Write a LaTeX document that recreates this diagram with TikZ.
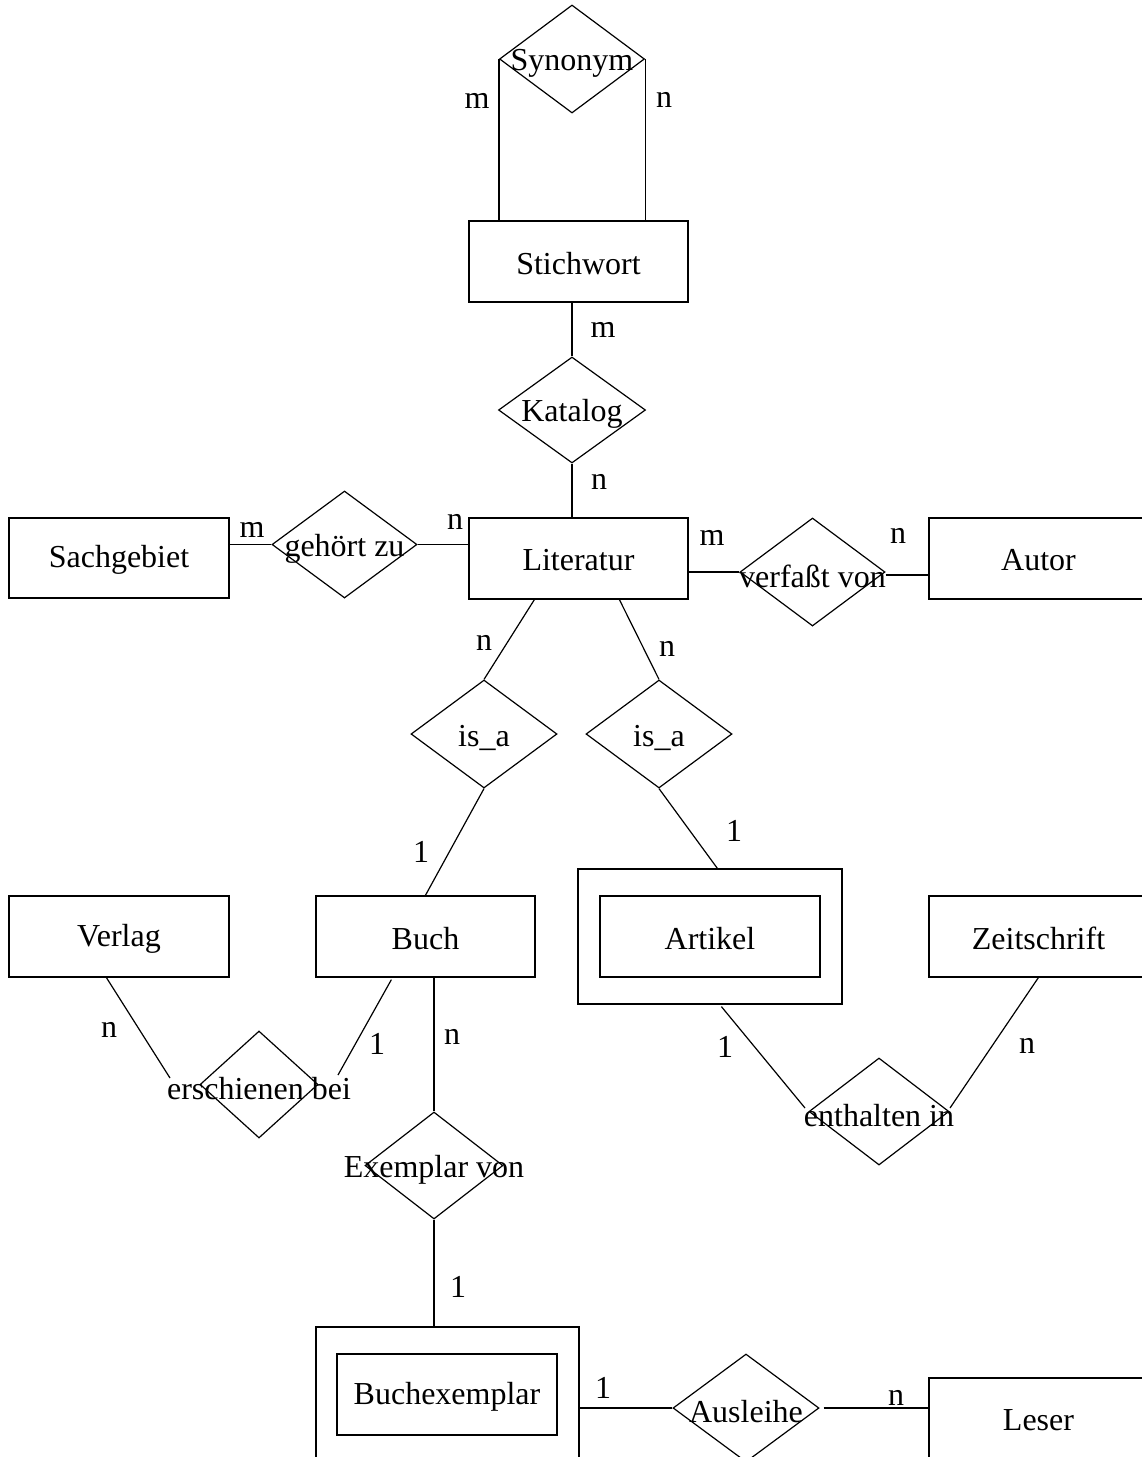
\documentclass[tikz,border=0pt]{standalone}
\usepackage{fontspec}
\setmainfont{Liberation Serif}
\usetikzlibrary{shapes.geometric,calc}
\newcommand\reltext[1]{\makebox[0pt]{\raisebox{-4pt}[\height][\depth]{#1}}}
\newcommand\enttext[1]{\raisebox{-2pt}[\height][\depth]{#1}}
\begin{document}
\begin{tikzpicture}[x=1pt,y=-1pt,line width=1.2pt,
  every node/.append style={font=\fontsize{32}{38}\selectfont},
  ent/.style={draw,rectangle,inner sep=0pt,minimum width=219pt,minimum height=81pt},
  weakbox/.style={draw,rectangle,inner sep=0pt,minimum width=264pt,minimum height=135pt},
  rel/.style={draw,diamond,inner sep=0pt,minimum width=146pt,minimum height=108pt},
  card/.style={inner sep=0pt}]
\useasboundingbox (0,0) rectangle (1142,1457);
\clip (0,0) rectangle (1142,1457);

% entities
\node[ent] (stich) at (578.5,261.5) {\enttext{Stichwort}};
\node[ent] (lit) at (578.5,558.5) {\enttext{Literatur}};
\node[ent,minimum width=220pt,minimum height=80pt] (sach) at (119,558) {\enttext{Sachgebiet}};
\node[ent] (autor) at (1038.5,558.5) {\enttext{Autor}};
\node[ent,minimum width=220pt] (verlag) at (119,936.5) {\enttext{Verlag}};
\node[ent] (buch) at (425.5,936.5) {\enttext{Buch}};
\node[ent,minimum width=220pt] (artikel) at (710,936.5) {\enttext{Artikel}};
\node[weakbox] (artikelo) at (710,936.5) {};
\node[ent] (zeit) at (1038.5,936.5) {\enttext{Zeitschrift}};
\node[ent,minimum width=220pt] (bex) at (447,1394.5) {\enttext{Buchexemplar}};
\node[weakbox,minimum width=263pt] (bexo) at (447.5,1394.5) {};
\node[ent] (leser) at (1038.5,1418.5) {\enttext{Leser}};

% relationships
\node[rel,minimum width=145pt] (syn) at (572,59) {\reltext{Synonym}};
\node[rel,minimum width=147pt,minimum height=106pt] (kat) at (572,410) {\reltext{Katalog}};
\node[rel,minimum width=145pt,minimum height=107pt] (geh) at (344.5,544.5) {\reltext{gehört zu}};
\node[rel,minimum width=145pt] (verf) at (812.5,572) {\reltext{verfaßt von}};
\node[rel] (isa1) at (484,734) {\reltext{is\_a}};
\node[rel] (isa2) at (659,734) {\reltext{is\_a}};
\node[rel,minimum width=118pt,minimum height=107pt] (ersch) at (259,1084.5) {\reltext{erschienen bei}};
\node[rel,minimum width=138pt,minimum height=107pt] (exv) at (434,1165.5) {\reltext{Exemplar von}};
\node[rel,minimum width=140pt,minimum height=107pt] (enth) at (879,1111.5) {\reltext{enthalten in}};
\node[rel] (aus) at (746,1408) {\reltext{Ausleihe}};

% connectors
\draw (syn.west) -- (syn.west |- stich.north);
\draw (syn.east) -- (syn.east |- stich.north);
\draw (kat.north) -- (kat.north |- stich.south);
\draw (kat.south) -- (kat.south |- lit.north);
\draw (geh.west) -- (geh.west -| sach.east);
\draw (geh.east) -- (geh.east -| lit.west);
\draw (verf.west) -- (verf.west -| lit.east);
\draw ($(verf.east)+(0,3)$) -- ($(verf.east -| autor.west)+(0,3)$);
\draw ($(lit.south west)+(66,0)$) -- (isa1.north);
\draw (isa1.south) -- ($(buch.north west)+(110,0)$);
\draw ($(lit.south west)+(151,0)$) -- (isa2.north);
\draw (isa2.south) -- ($(artikelo.north west)+(140,0)$);
\draw ($(verlag.south west)+(98,0)$) -- ($(ersch.center)+(-89,-6.5)$);
\draw ($(buch.south west)+(76,2)$) -- ($(ersch.center)+(79,-9.5)$);
\draw (exv.north |- buch.south) -- (exv.north);
\draw (exv.south) -- (exv.south |- bexo.north);
\draw ($(artikelo.south west)+(144,2)$) -- ($(enth.center)+(-74,-3.5)$);
\draw ($(zeit.south west)+(110,0)$) -- ($(enth.center)+(71,-3.5)$);
\draw (aus.west) -- (aus.west -| bexo.east);
\draw ($(aus.east)+(4,0)$) -- (aus.east -| leser.west);

% cardinalities
\node[card] (c1) at (477,101) {m};
\node[card] (c2) at (664,100) {n};
\node[card] (c3) at (603,330) {m};
\node[card] (c4) at (599,482) {n};
\node[card] (c5) at (252,530) {m};
\node[card] (c6) at (455,522) {n};
\node[card] (c7) at (712,538) {m};
\node[card] (c8) at (898,536) {n};
\node[card] (c9) at (484,643) {n};
\node[card] (c10) at (667,649) {n};
\node[card] (c11) at (421,852) {1};
\node[card] (c12) at (734,831) {1};
\node[card] (c13) at (109,1030) {n};
\node[card] (c14) at (377,1044) {1};
\node[card] (c15) at (452,1037) {n};
\node[card] (c16) at (725,1047) {1};
\node[card] (c17) at (1027,1046) {n};
\node[card] (c18) at (458,1287) {1};
\node[card] (c19) at (603,1388) {1};
\node[card] (c20) at (896,1398) {n};
\end{tikzpicture}
\end{document}
